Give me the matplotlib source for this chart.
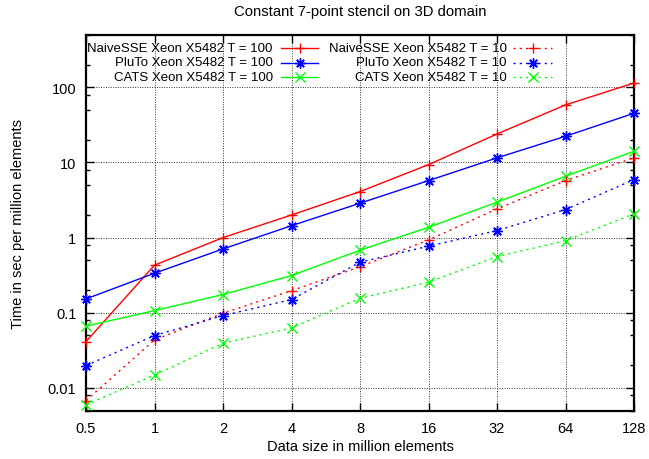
import matplotlib
matplotlib.use("Agg")
import matplotlib.pyplot as plt
from matplotlib.ticker import LogLocator, FixedLocator, FixedFormatter, NullFormatter
from matplotlib.lines import Line2D

plt.rcParams['font.family'] = ['Liberation Sans', 'DejaVu Sans']

sizes = [0.5, 1, 2, 4, 8, 16, 32, 64, 128]
size_labels = ["0.5", "1", "2", "4", "8", "16", "32", "64", "128"]

naive_100 = [0.0414, 0.43, 1.0, 2.0, 4.09, 9.35, 23.9, 58.2, 114]
pluto_100 = [0.153, 0.336, 0.707, 1.44, 2.87, 5.73, 11.5, 22.3, 45.1]
cats_100 = [0.0664, 0.107, 0.175, 0.313, 0.68, 1.37, 2.96, 6.55, 14.1]
naive_10 = [0.0068, 0.0436, 0.0987, 0.197, 0.41, 0.93, 2.41, 5.73, 11.5]
pluto_10 = [0.0199, 0.0498, 0.0918, 0.150, 0.471, 0.768, 1.24, 2.36, 5.91]
cats_10 = [0.00596, 0.0149, 0.0394, 0.063, 0.156, 0.255, 0.559, 0.912, 2.07]

labels_100 = ["NaiveSSE Xeon X5482 T = 100", "PluTo Xeon X5482 T = 100", "CATS Xeon X5482 T = 100"]
labels_10 = ["NaiveSSE Xeon X5482 T = 10", "PluTo Xeon X5482 T = 10", "CATS Xeon X5482 T = 10"]

colors = ["#ff0000", "#0000ff", "#00ff00"]
markers = ["+", (8, 2, 0), "x"]
msize = 7.5
dotted = (0, (1.5, 3))

W, H = 649, 460
fig = plt.figure(figsize=(W / 100, H / 100), dpi=100)
ax = fig.add_axes([86 / W, (H - 412) / H, 548 / W, (412 - 35.7) / H])

ax.set_xscale('log', base=2)
ax.set_yscale('log')
ax.set_xlim(0.5, 128)
ax.set_ylim(0.00494, 500)

ax.xaxis.set_major_locator(FixedLocator(sizes))
ax.xaxis.set_major_formatter(FixedFormatter(size_labels))
ax.xaxis.set_minor_locator(FixedLocator([]))
ax.yaxis.set_major_locator(FixedLocator([0.01, 0.1, 1, 10, 100]))
ax.yaxis.set_major_formatter(FixedFormatter(["0.01", "0.1", "1", "10", "100"]))
ax.yaxis.set_minor_locator(LogLocator(base=10, subs=(2, 5, 8)))
ax.yaxis.set_minor_formatter(NullFormatter())

ax.tick_params(which='both', direction='in', top=True, right=True, labelsize=10.5, colors='black')
ax.tick_params(which='major', length=6, width=1, pad=7)
ax.tick_params(which='minor', length=3, width=1)
for s in ax.spines.values():
    s.set_linewidth(1.6)

ax.grid(True, which='major', linestyle=(0, (1, 1.5)), color='#333333', linewidth=0.7)

for data, ls in [((naive_100, pluto_100, cats_100), '-'),
                 ((naive_10, pluto_10, cats_10), dotted)]:
    for i, vals in enumerate(data):
        ax.plot(sizes, vals, color=colors[i], linestyle=ls, linewidth=1.0,
                marker=markers[i], markersize=msize, markeredgewidth=1.0, clip_on=False, zorder=3)

# legend (gnuplot style: right-aligned text followed by sample)
row_y = [49, 63.5, 78]
cols = [(272.7, 281, 318), (506.7, 513, 552)]
for col, (labels, ls) in enumerate([(labels_100, '-'), (labels_10, dotted)]):
    tx, x0, x1 = cols[col]
    for i in range(3):
        yy = row_y[i]
        fig.text(tx / W, 1 - yy / H, labels[i], ha='right', va='center', fontsize=9.5)
        fig.add_artist(Line2D([x0 / W, x1 / W], [1 - yy / H, 1 - yy / H], transform=fig.transFigure,
                              color=colors[i], linestyle=ls, linewidth=1.0))
        fig.add_artist(Line2D([(x0 + x1) / 2 / W], [1 - yy / H], transform=fig.transFigure,
                              color=colors[i], marker=markers[i], markersize=msize, markeredgewidth=1.0,
                              linestyle='none'))

fig.text(360 / W, 1 - 12 / H, "Constant 7-point stencil on 3D domain", ha='center', va='center', fontsize=10.7)
fig.text(360 / W, 1 - 447 / H, "Data size in million elements", ha='center', va='center', fontsize=10.5)
fig.text(18 / W, 1 - 224 / H, "Time in sec per million elements", ha='center', va='center',
         rotation=90, fontsize=10.5)

fig.savefig("out.png", dpi=100)
